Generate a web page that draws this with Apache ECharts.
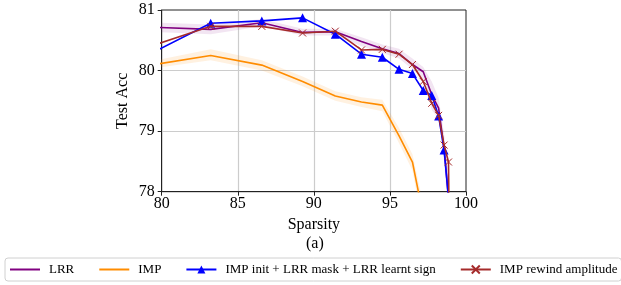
<!DOCTYPE html>
<html>
<head>
<meta charset="utf-8">
<script src="https://cdn.jsdelivr.net/npm/echarts@6/dist/echarts.min.js"></script>
<style>
  html, body { margin: 0; padding: 0; background: #fff; }
  #main { width: 621px; height: 285px; }
</style>
</head>
<body>
<div id="main"></div>
<script>
// sparsity levels (x)
var sparsity = [79.03, 83.22, 86.58, 89.26, 91.41, 93.13, 94.50, 95.60, 96.48, 97.19, 97.75, 98.20, 98.56, 98.85];
var orangeX = [79.03, 83.22, 86.58, 89.26, 91.41, 93.13, 94.50, 95.60, 96.48, 97.19];

// test accuracy
var lrr      = [80.72, 80.68, 80.79, 80.63, 80.64, 80.48, 80.36, 80.28, 80.10, 79.98, 79.60, 79.38, 78.72, 77.90];
var lrrLow   = [80.64, 80.60, 80.73, 80.58, 80.58, 80.40, 80.29, 80.20, 80.02, 79.86, 79.35, 79.20, 78.50, 77.50];
var lrrHigh  = [80.80, 80.76, 80.85, 80.69, 80.69, 80.55, 80.43, 80.36, 80.20, 80.06, 79.82, 79.55, 78.95, 78.20];
var imp      = [80.08, 80.25, 80.09, 79.82, 79.58, 79.48, 79.43, 78.92, 78.49, 77.60];
var impLow   = [80.02, 80.17, 80.00, 79.74, 79.50, 79.40, 79.33, 78.80, 78.35, 77.40];
var impHigh  = [80.14, 80.35, 80.17, 79.90, 79.66, 79.56, 79.52, 79.05, 78.62, 77.80];
var impInit  = [80.25, 80.78, 80.82, 80.87, 80.60, 80.27, 80.22, 80.02, 79.95, 79.67, 79.59, 79.25, 78.69, 77.90];
var rewind   = [80.38, 80.73, 80.73, 80.62, 80.65, 80.34, 80.35, 80.27, 80.10, 79.82, 79.46, 79.26, 78.77, 78.49];
var rewindX  = [79.03, 83.22, 86.58, 89.26, 91.41, 93.13, 94.50, 95.60, 96.48, 97.19, 97.75, 98.20, 98.56, 98.85, 99.08];
var rewindY  = rewind.concat([73.0]);

var names = ['LRR', 'IMP', 'IMP init + LRR mask + LRR learnt sign', 'IMP rewind amplitude'];

function pairs(xs, ys) {
  return xs.map(function (x, i) { return [x, ys[i]]; });
}

var font = 'Liberation Serif';
var chart = echarts.init(document.getElementById('main'));

// shaded std band as one polygon, drawn through the axes
function bandSeries(id, xs, lo, hi, color) {
  var rows = xs.map(function (x, i) { return [x, lo[i], hi[i]]; });
  return {
    name: id, type: 'custom', silent: true, clip: true, z: 1,
    data: rows,
    encode: { x: 0, y: [1, 2] },
    renderItem: function (params, api) {
      if (params.dataIndex !== 0) return;
      var pts = [];
      rows.forEach(function (r) { pts.push(api.coord([r[0], r[2]])); });
      for (var i = rows.length - 1; i >= 0; i--) pts.push(api.coord([rows[i][0], rows[i][1]]));
      return { type: 'polygon', shape: { points: pts }, style: { fill: color } };
    }
  };
}

var option = {
  animation: false,
  backgroundColor: '#fff',
  textStyle: { fontFamily: font },
  grid: { left: 161.7, right: 155, top: 10, bottom: 93.3, show: true, borderColor: '#222', borderWidth: 1 },
  legend: {
    data: [
      { name: names[0], itemStyle: { opacity: 0 } },
      { name: names[1], itemStyle: { opacity: 0 } },
      { name: names[2] },
      { name: names[3] }
    ],
    left: 5, top: 258,
    width: 614,
    padding: [5, 4],
    itemWidth: 30, itemHeight: 10, itemGap: 24,
    borderColor: '#d0d0d0', borderWidth: 1, borderRadius: 3,
    textStyle: { fontFamily: font, fontSize: 13, color: '#000', padding: [0, 0, 0, 4] }
  },
  graphic: [
    { type: 'text', left: 306, top: 236, style: { text: '(a)', font: '16px "Liberation Serif"', fill: '#000' } }
  ],
  xAxis: {
    type: 'value', min: 80, max: 100, interval: 5,
    name: 'Sparsity', nameLocation: 'middle', nameGap: 21,
    nameTextStyle: { fontFamily: font, fontSize: 16, color: '#000' },
    axisLine: { show: true, lineStyle: { color: '#222' } },
    axisTick: { show: true, length: 4, lineStyle: { color: '#222' } },
    axisLabel: { fontFamily: font, fontSize: 16, color: '#000', margin: 4 },
    splitLine: { show: true, showMinLine: false, showMaxLine: false, lineStyle: { color: '#cccccc', width: 1.2 } }
  },
  yAxis: {
    type: 'value', min: 78, max: 81, interval: 1,
    name: 'Test Acc', nameLocation: 'middle', nameGap: 31, nameRotate: 90,
    nameTextStyle: { fontFamily: font, fontSize: 16, color: '#000' },
    axisLine: { show: true, lineStyle: { color: '#222' } },
    axisTick: { show: true, length: 4, lineStyle: { color: '#222' } },
    axisLabel: { fontFamily: font, fontSize: 16, color: '#000', margin: 7 },
    splitLine: { show: true, showMinLine: false, showMaxLine: false, lineStyle: { color: '#cccccc', width: 1.2 } }
  },
  series: [
    bandSeries('lrrBand', sparsity, lrrLow, lrrHigh, 'rgba(128,0,128,0.10)'),
    bandSeries('impBand', orangeX, impLow, impHigh, 'rgba(255,140,0,0.12)'),
    { name: names[0], type: 'line', data: pairs(sparsity, lrr), symbol: 'none', clip: true,
      lineStyle: { color: '#800080', width: 1.6 }, itemStyle: { color: '#800080' }, z: 3 },
    { name: names[1], type: 'line', data: pairs(orangeX, imp), symbol: 'none', clip: true,
      lineStyle: { color: '#ff8c00', width: 1.6 }, itemStyle: { color: '#ff8c00' }, z: 3 },
    { name: names[2], type: 'line', data: pairs(sparsity, impInit), symbol: 'triangle', symbolSize: 9, clip: true,
      lineStyle: { color: '#0000ff', width: 1.6 }, itemStyle: { color: '#0000ff' }, z: 4 },
    { name: names[3], type: 'line', data: pairs(rewindX, rewindY),
      symbol: 'path://M0,0L10,10M10,0L0,10', symbolSize: 7, clip: true,
      lineStyle: { color: '#a52a2a', width: 1.6 },
      itemStyle: { color: '#a52a2a', borderColor: '#a52a2a', borderWidth: 1 }, z: 5 }
  ]
};
chart.setOption(option);
</script>
</body>
</html>
